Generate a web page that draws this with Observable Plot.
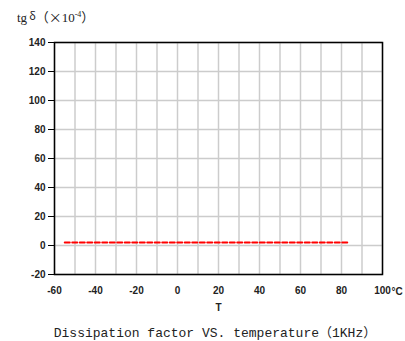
<!DOCTYPE html>
<html>
<head>
<meta charset="utf-8">
<script src="https://cdn.jsdelivr.net/npm/d3@7"></script>
<script src="https://cdn.jsdelivr.net/npm/@observablehq/plot@0.6"></script>
<style>
  html, body { margin: 0; padding: 0; background: #fff; }
  #wrap { position: relative; width: 405px; height: 341px; overflow: hidden; }
  .title { position: absolute; left: 17px; top: 7px; font-family: "Liberation Serif", "Noto Sans CJK SC", serif; font-size: 13px; color: #222; white-space: nowrap; }
  .cjk { font-family: "Noto Sans CJK SC"; }
  .caption { position: absolute; left: 0; width: 430px; text-align: center; top: 322px; font-family: "Liberation Mono", "Noto Sans CJK SC", monospace; font-size: 13px; color: #222; white-space: nowrap; }
  sup { font-size: 8px; }
</style>
</head>
<body>
<div id="wrap">
  <div id="chart"></div>
  <div class="title">tg<span class="cjk" style="font-size:11px;vertical-align:2px;margin-left:2px">δ</span><span class="cjk">（×</span>10<sup>-4</sup><span class="cjk">）</span></div>
  <div class="caption">Dissipation factor VS. temperature<span class="cjk">（</span>1KHz<span class="cjk">）</span></div>
</div>
<script>
const temperature = [-55, -40, -20, 0, 20, 40, 60, 84];
const tgDelta = [2, 2, 2, 2, 2, 2, 2, 2];
const xTicks = [-60, -40, -20, 0, 20, 40, 60, 80, 100];
const yTicks = [-20, 0, 20, 40, 60, 80, 100, 120, 140];
const xGrid = d3.range(-60, 101, 10);
const xLabel = "T";
const xUnit = "°C";

const data = temperature.map((t, i) => ({t, v: tgDelta[i]}));

const chart = Plot.plot({
  width: 405,
  height: 341,
  marginLeft: 54,
  marginTop: 42,
  marginRight: 23,
  marginBottom: 67,
  style: {fontFamily: "Liberation Sans, Arial, sans-serif", fontSize: "10px", fontWeight: "bold", color: "#222", background: "#fff"},
  x: {domain: [-60, 100]},
  y: {domain: [-20, 140]},
  marks: [
    Plot.gridX(xGrid, {stroke: "#cccccc", strokeOpacity: 1, strokeWidth: 1.5}),
    Plot.gridY(yTicks, {stroke: "#cccccc", strokeOpacity: 1, strokeWidth: 1.5}),
    Plot.frame({stroke: "#000", strokeWidth: 1.5}),
    Plot.axisY(yTicks, {tickSize: 6, tickPadding: 3, label: null, stroke: "#000", tickFormat: d => String(d)}),
    Plot.axisX(xTicks, {tickSize: 0, tickPadding: 12, label: null, tickFormat: d => String(d)}),
    Plot.text([xUnit], {x: 100, y: -20, dy: 17, dx: 9, textAnchor: "start", fontSize: 10, fontWeight: "bold"}),
    Plot.text([xLabel], {x: 20, y: -20, dy: 33, fontSize: 10, fontWeight: "bold"}),
    Plot.line(data, {x: "t", y: "v", stroke: "#ff0000", strokeWidth: 2, strokeDasharray: "5,2.5"})
  ]
});
document.getElementById("chart").appendChild(chart);
</script>
</body>
</html>
